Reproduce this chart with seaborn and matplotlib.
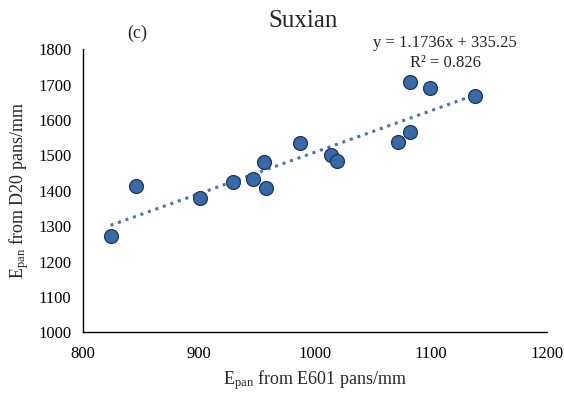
import matplotlib
matplotlib.use('Agg')
import matplotlib.pyplot as plt
import numpy as np
import pandas as pd
import seaborn as sns

# values
e601 = [824, 846, 901, 930, 947, 956, 958, 987, 1014, 1019, 1072, 1082, 1082, 1099, 1138]
d20 = [1272, 1414, 1380, 1425, 1432, 1480, 1408, 1535, 1500, 1483, 1537, 1565, 1707, 1690, 1667]
slope = 1.1736
intercept = 335.25
r2 = 0.826
x_ticks = [800, 900, 1000, 1100, 1200]
y_ticks = [1000, 1100, 1200, 1300, 1400, 1500, 1600, 1700, 1800]
title = 'Suxian'
panel = '(c)'

sns.set_style('white')
plt.rcParams['font.family'] = ['Liberation Serif', 'DejaVu Serif']
plt.rcParams['mathtext.fontset'] = 'custom'
plt.rcParams['mathtext.rm'] = 'Liberation Serif'
plt.rcParams['mathtext.it'] = 'Liberation Serif:italic'

df = pd.DataFrame({'e601': e601, 'd20': d20})
xs = np.array([min(e601), max(e601)])
trend = pd.DataFrame({'x': xs, 'y': slope * xs + intercept})

fig = plt.figure(figsize=(5.64, 3.96), dpi=100)
ax = fig.add_axes([0.1466, 0.1609, 0.8227, 0.7146])

sns.lineplot(data=trend, x='x', y='y', ax=ax, color='#4a74ab',
             linestyle=(0, (1, 1.6)), linewidth=2.2, zorder=2)
sns.scatterplot(data=df, x='e601', y='d20', ax=ax, s=100, color='#3a69a8',
                edgecolor='#1b365c', linewidth=0.9, zorder=3)

ax.set_xlim(800, 1200)
ax.set_ylim(1000, 1800)
ax.set_xticks(x_ticks)
ax.set_yticks(y_ticks)
ax.tick_params(axis='both', labelsize=12, colors='black', length=4, width=0.8)
ax.tick_params(axis='x', direction='in', pad=10)
ax.tick_params(axis='y', direction='out', pad=4)
for side in ['top', 'right']:
    ax.spines[side].set_visible(False)
for side in ['left', 'bottom']:
    ax.spines[side].set_color('black')
    ax.spines[side].set_linewidth(1.0)

ax.set_xlabel(r'E$_{\rm pan}$ from E601 pans/mm', fontsize=13, labelpad=4)
ax.set_ylabel(r'E$_{\rm pan}$ from D20 pans/mm', fontsize=13, labelpad=5)

fig.text(303 / 564, 1 - 21 / 396, title, ha='center', va='center', fontsize=18)
fig.text(137 / 564, 1 - 33 / 396, panel, ha='center', va='center', fontsize=13)
fig.text(445 / 564, 1 - 43 / 396, f'y = {slope}x + {intercept}', ha='center', va='center', fontsize=12)
fig.text(445 / 564, 1 - 63 / 396, f'R² = {r2}', ha='center', va='center', fontsize=12)

fig.savefig('out.png', dpi=100)
